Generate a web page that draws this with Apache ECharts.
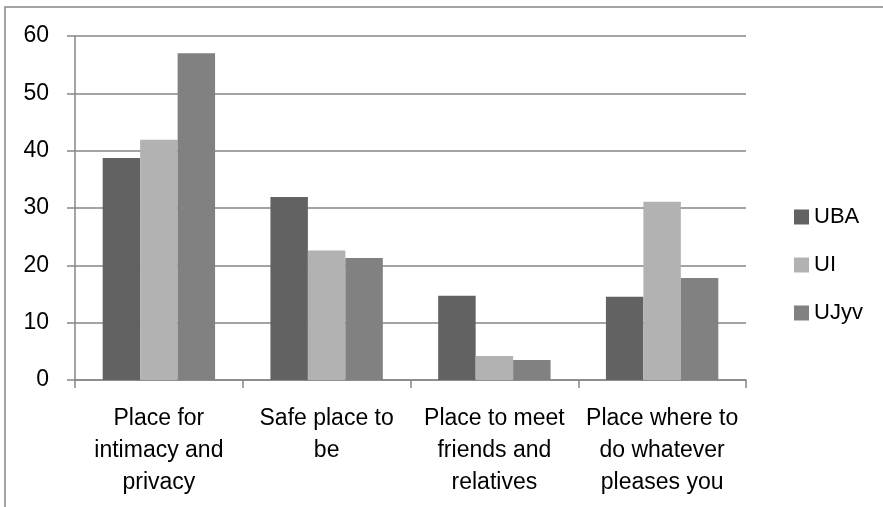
<!DOCTYPE html>
<html>
<head>
<meta charset="utf-8">
<script src="https://cdn.jsdelivr.net/npm/echarts@6/dist/echarts.min.js"></script>
<style>
html,body{margin:0;padding:0;background:#fff;}
#chart{width:883px;height:507px;}
</style>
</head>
<body>
<div id="chart"></div>
<script>
var categories = ["Place for\nintimacy and\nprivacy", "Safe place to\nbe", "Place to meet\nfriends and\nrelatives", "Place where to\ndo whatever\npleases you"];
var seriesNames = ["UBA", "UI", "UJyv"];
var ubaValues = [38.7, 31.9, 14.7, 14.5];
var uiValues = [41.9, 22.6, 4.2, 31.1];
var ujyvValues = [57.0, 21.3, 3.5, 17.8];
var yTicks = [0, 10, 20, 30, 40, 50, 60];
var colors = ["#626262", "#b2b2b2", "#818181"];

var FONT = "Liberation Sans";
var chart = echarts.init(document.getElementById('chart'), null, {renderer: 'canvas'});
var allValues = [ubaValues, uiValues, ujyvValues];
chart.setOption({
  animation: false,
  backgroundColor: '#fff',
  graphic: [{
    type: 'rect',
    shape: {x: 5, y: 7, width: 900, height: 520},
    style: {fill: 'none', stroke: '#868686', lineWidth: 1.5},
    silent: true
  }],
  grid: {left: 75, right: 137, top: 36, bottom: 127, containLabel: false},
  legend: {
    orient: 'vertical',
    left: 789,
    top: 200,
    itemWidth: 15,
    itemHeight: 15,
    itemGap: 24,
    icon: 'rect',
    textStyle: {fontFamily: FONT, fontSize: 22, color: '#000', lineHeight: 24},
    data: seriesNames
  },
  xAxis: {
    type: 'category',
    data: categories,
    axisLine: {lineStyle: {color: '#868686', width: 1.5}},
    axisTick: {show: true, length: 8, inside: false, alignWithLabel: false, lineStyle: {color: '#868686', width: 1.5}},
    axisLabel: {interval: 0, margin: 23, color: '#000', fontFamily: FONT, fontSize: 23, lineHeight: 32, align: 'center'},
    splitLine: {show: false}
  },
  yAxis: {
    type: 'value',
    min: yTicks[0],
    max: yTicks[yTicks.length - 1],
    interval: 10,
    axisLine: {show: true, lineStyle: {color: '#868686', width: 1.5}},
    axisTick: {show: true, length: 8, lineStyle: {color: '#868686', width: 1.5}},
    axisLabel: {margin: 26, color: '#000', fontFamily: FONT, fontSize: 23},
    splitLine: {show: true, lineStyle: {color: '#868686', width: 1.5}}
  },
  series: seriesNames.map(function (name, i) {
    return {
      name: name,
      type: 'bar',
      data: allValues[i],
      barGap: '0%',
      barCategoryGap: '33%',
      itemStyle: {color: colors[i]}
    };
  })
});
</script>
</body>
</html>
